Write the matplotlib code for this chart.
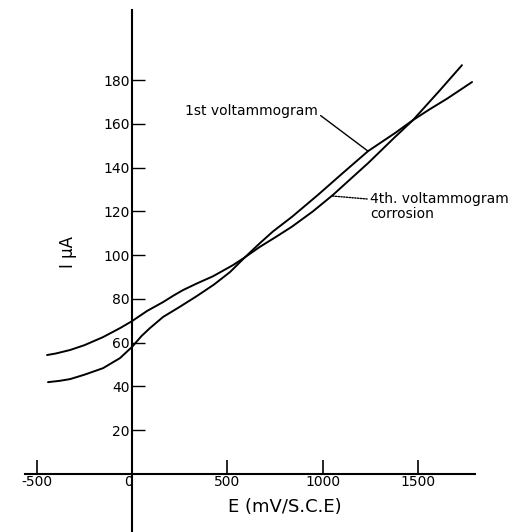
import matplotlib
matplotlib.use("Agg")
import matplotlib.pyplot as plt
import matplotlib.transforms as mtransforms

# --- data ---
e_first = [-441, -380, -325, -250, -152, -63, 0, 50, 94, 163, 250, 341, 430,
           514, 593, 672, 740, 840, 976, 1100, 1239, 1381, 1475, 1560, 1654, 1785]
i_first = [41.9, 42.5, 43.3, 45.3, 48.3, 52.9, 58.0, 63.0, 66.6, 71.7, 76.3,
           81.3, 86.5, 92.2, 99.0, 105.5, 110.8, 117.5, 127.5, 137.0, 147.5,
           155.8, 161.7, 166.5, 171.5, 179.1]

e_fourth = [-446, -400, -325, -250, -152, -63, 0, 80, 163, 220, 268, 340, 425,
            530, 593, 672, 750, 840, 950, 1055, 1150, 1239, 1381, 1475, 1617, 1732]
i_fourth = [54.3, 55.0, 56.6, 58.8, 62.5, 66.6, 69.8, 74.5, 78.5, 81.6, 84.0,
            87.0, 90.3, 95.4, 99.0, 103.8, 108.0, 113.0, 120.0, 127.5, 135.0,
            142.0, 154.0, 161.7, 175.4, 186.8]

x_ticks = [-500, 0, 500, 1000, 1500]
x_tick_labels = ["-500", "0", "500", "1000", "1500"]
y_ticks = [20, 40, 60, 80, 100, 120, 140, 160, 180]
y_tick_labels = ["20", "40", "60", "80", "100", "120", "140", "160", "180"]

label_first = "1st voltammogram"
label_fourth = "4th. voltammogram\ncorrosion"
x_label = "E (mV/S.C.E)"
y_label = "I \u03bcA"

plt.rcParams['font.family'] = ['DejaVu Sans']

fig = plt.figure(figsize=(5.15, 5.32), dpi=100)
ax = fig.add_axes([0, 0, 1, 1])
ax.set_facecolor("white")
fig.patch.set_facecolor("white")

ax.plot(e_first, i_first, color="black", lw=1.4, solid_capstyle="round",
        solid_joinstyle="round")
ax.plot(e_fourth, i_fourth, color="black", lw=1.4, solid_capstyle="round",
        solid_joinstyle="round")

ax.set_xlim(-693, 2010.5)
ax.set_ylim(-26.6, 216.6)

for s in ["top", "right"]:
    ax.spines[s].set_visible(False)
ax.spines["left"].set_position(("data", 0))
ax.spines["bottom"].set_position(("data", 0))
ax.spines["left"].set_bounds(-26.6, 212)
ax.spines["bottom"].set_bounds(-562, 1800)
ax.spines["left"].set_linewidth(1.5)
ax.spines["bottom"].set_linewidth(1.5)

ax.set_xticks(x_ticks)
ax.set_xticklabels(x_tick_labels, fontsize=10)
ax.set_yticks(y_ticks)
ax.set_yticklabels(y_tick_labels, fontsize=10)
ax.tick_params(axis="x", direction="in", length=10, width=1.2, pad=1)
ax.tick_params(axis="y", direction="in", length=9, width=1.0, pad=1.5)

# shift "0" x tick label to the left of the y axis
for lab in ax.get_xticklabels():
    if lab.get_text() == "0":
        lab.set_transform(lab.get_transform() +
                          mtransforms.ScaledTranslation(-4 / 100, 0, fig.dpi_scale_trans))

# axis labels placed as in the reference
fig.text(285 / 515, 1 - 507 / 532, x_label, ha="center", va="center", fontsize=13)
fig.text(68 / 515, 1 - 252 / 532, y_label, ha="center", va="center", fontsize=12,
         rotation=90)

# annotations
ax.annotate(label_first, xy=(1239, 147.5), xytext=(278, 166.0),
            ha="left", va="center", fontsize=10,
            arrowprops=dict(arrowstyle="-", color="black", lw=1.0,
                            shrinkA=0, shrinkB=0,
                            relpos=(1.0, 0.3)))
ax.annotate(label_fourth, xy=(1050, 127.0), xytext=(1249, 122.2),
            ha="left", va="center", fontsize=10, linespacing=1.1,
            arrowprops=dict(arrowstyle="-", color="black", lw=1.0,
                            linestyle=(0, (1, 1)),
                            shrinkA=0, shrinkB=0, relpos=(0.0, 0.75)))

fig.savefig("out.png", dpi=100, facecolor="white")
